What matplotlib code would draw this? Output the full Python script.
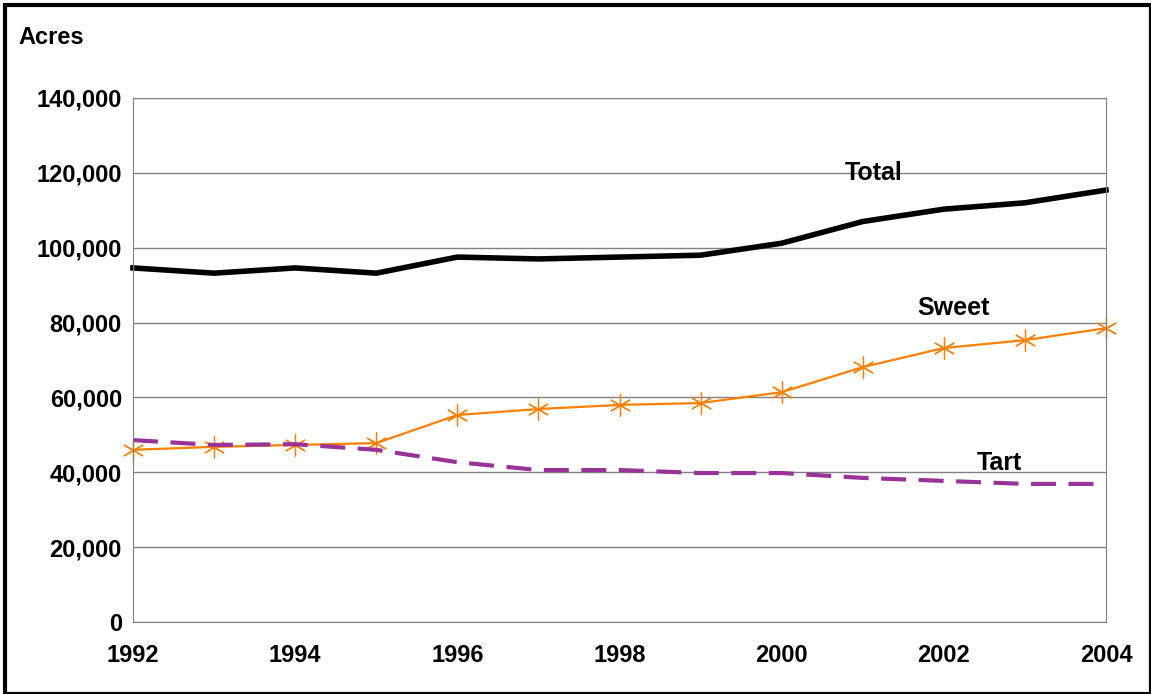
import numpy as np
import matplotlib.pyplot as plt
from matplotlib.patches import Rectangle

years = list(range(1992, 2005))
total = [94600, 93200, 94600, 93200, 97500, 97000, 97500, 98000, 101200, 107000, 110300, 112000, 115400]
sweet = [46000, 46800, 47300, 47800, 55300, 56900, 58000, 58500, 61400, 68100, 73200, 75300, 78500]
tart = [48600, 47300, 47500, 46000, 42700, 40600, 40600, 39800, 39800, 38500, 37700, 36900, 36900]

plt.rcParams['font.family'] = ['Liberation Sans', 'DejaVu Sans']
fig = plt.figure(figsize=(11.51, 6.94), dpi=100)
ax = fig.add_axes([133/1151, 72/694, 973/1151, 524/694])

ax.plot(years, total, color='black', lw=4, clip_on=False)
ax.plot(years, sweet, color='#ff8000', lw=1.6, marker=(6, 2, 0), ms=16, mew=0.9,
        mec='#ff8000', clip_on=False)
ax.plot(years, tart, color='#993399', lw=3, dashes=(6, 3), clip_on=False)

ax.set_xlim(1992, 2004)
ax.set_ylim(0, 140000)
ax.set_yticks(range(0, 140001, 20000))
ax.set_yticklabels([f"{v:,}" for v in range(0, 140001, 20000)])
ax.set_xticks(range(1992, 2005, 2))
ax.yaxis.grid(True, color='#808080', lw=1)
ax.set_axisbelow(True)
for s in ax.spines.values():
    s.set_color('#808080')
ax.tick_params(length=0, labelsize=17)
ax.tick_params(axis='x', pad=16)
ax.tick_params(axis='y', pad=8)
for t in ax.get_xticklabels() + ax.get_yticklabels():
    t.set_fontweight('bold')

ax.text(2000.78, 118000, 'Total', fontsize=18, fontweight='bold')
ax.text(2001.67, 82000, 'Sweet', fontsize=18, fontweight='bold')
ax.text(2002.4, 40500, 'Tart', fontsize=18, fontweight='bold')
fig.text(18/1151, 1 - 37/694, 'Acres', fontsize=17, fontweight='bold', va='center')

fig.patches.append(Rectangle((5/1151, 0), 1 - 5/1151, 1 - 5/694, transform=fig.transFigure,
                             fill=False, lw=3, ec='black'))

fig.savefig('out.png', dpi=100)
